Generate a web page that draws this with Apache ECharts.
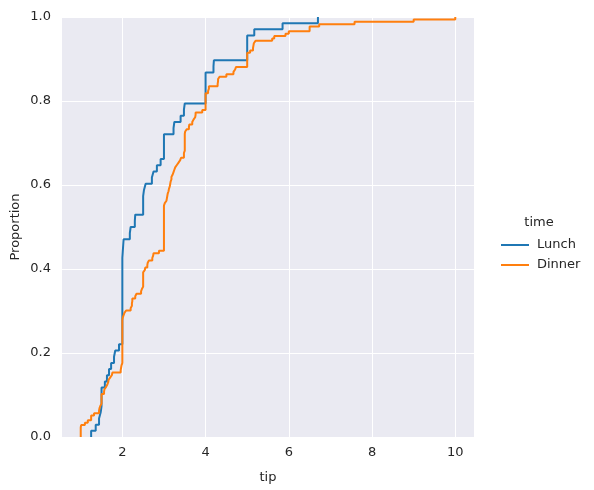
<!DOCTYPE html>
<html>
<head>
<meta charset="utf-8">
<script src="https://cdn.jsdelivr.net/npm/echarts@6/dist/echarts.min.js"></script>
<style>html,body{margin:0;padding:0;background:#fff}#c{width:594px;height:490px}</style>
</head>
<body>
<div id="c"></div>
<script>
// tip values by meal time (tips dataset)
const lunchTips = [4.00,3.00,2.71,3.00,3.40,1.83,5.00,2.03,5.17,2.00,4.00,5.85,3.00,
  1.50,1.80,2.92,2.31,1.68,2.50,2.00,2.52,4.20,1.48,2.00,2.00,2.18,1.50,2.83,1.50,2.00,3.25,1.25,2.00,2.00,2.00,2.75,3.50,6.70,5.00,5.00,2.30,1.50,1.36,1.63,1.73,2.00,
  4.19,2.56,2.02,4.00,1.44,2.00,5.00,2.00,2.00,4.00,2.01,2.00,2.50,4.00,3.23,
  2.20,3.48,1.92,3.00,1.58,2.50,2.00];
const dinnerTips = [1.01,1.66,3.50,3.31,3.61,4.71,2.00,3.12,1.96,3.23,1.71,5.00,1.57,3.00,3.02,3.92,1.67,3.71,3.50,
  3.35,4.08,2.75,2.23,7.58,3.18,2.34,2.00,2.00,4.30,3.00,1.45,2.50,3.00,2.45,3.27,3.60,2.00,3.07,2.31,5.00,2.24,
  2.54,3.06,1.32,5.60,3.00,5.00,6.00,2.05,3.00,2.50,2.60,5.20,1.56,4.34,3.51,
  3.00,1.50,1.76,6.73,3.21,2.00,1.98,3.76,2.64,3.15,2.47,1.00,2.01,2.09,1.97,3.00,3.14,5.00,2.20,1.25,3.08,
  3.00,3.50,1.00,4.30,3.25,4.73,4.00,1.50,3.00,1.50,2.50,3.00,2.50,3.48,4.08,1.64,4.06,4.29,3.76,4.00,3.00,1.00,4.00,2.55,4.00,3.50,5.07,
  2.50,2.00,2.74,2.00,2.00,5.14,5.00,3.75,2.61,2.00,3.50,2.50,2.00,2.00,3.00,3.48,2.24,4.50,1.61,2.00,10.00,3.16,5.15,3.18,4.00,3.11,2.00,2.00,4.00,3.55,3.68,5.65,3.50,6.50,3.00,5.00,3.50,2.00,3.50,4.00,1.50,
  3.41,3.00,2.03,2.23,2.00,5.16,9.00,2.50,6.50,1.10,3.00,1.50,1.44,3.09,
  3.00,2.72,2.88,2.00,3.00,3.39,1.47,3.00,1.25,1.00,1.17,4.67,5.92,2.00,2.00,1.75,3.00];
const seriesNames = ['Lunch','Dinner'];

function ecdf(vals){
  const s = vals.slice().sort((a,b)=>a-b);
  const n = s.length;
  const pts = [[s[0],0]];
  s.forEach((v,i)=>pts.push([v,(i+1)/n]));
  return pts;
}

const txt = '#262626';
const font = 'DejaVu Sans';
const fs = 13;
const chart = echarts.init(document.getElementById('c'), null, {renderer:'canvas'});
chart.setOption({
  animation:false,
  backgroundColor:'#ffffff',
  textStyle:{fontFamily:font},
  grid:{left:62, top:17, width:412, height:420, show:true, backgroundColor:'#EAEAF2', borderWidth:0, containLabel:false, outerBoundsMode:'none'},
  xAxis:{type:'value', min:0.55, max:10.45, splitNumber:5,
    name:'tip', nameLocation:'middle', nameGap:34, nameMoveOverlap:false,
    nameTextStyle:{color:txt, fontSize:fs, fontFamily:font},
    axisLine:{show:false}, axisTick:{show:false},
    axisLabel:{color:txt, fontSize:fs, fontFamily:font, margin:9, showMinLabel:false, showMaxLabel:false},
    splitLine:{show:true, showMinLine:false, showMaxLine:false, lineStyle:{color:'#ffffff', width:1}}},
  yAxis:{type:'value', min:0, max:1, interval:0.2,
    name:'Proportion', nameLocation:'middle', nameGap:40, nameMoveOverlap:false,
    nameTextStyle:{color:txt, fontSize:fs, fontFamily:font},
    axisLine:{show:false}, axisTick:{show:false},
    axisLabel:{color:txt, fontSize:fs, fontFamily:font, margin:11, formatter:v=>v.toFixed(1)},
    splitLine:{show:true, lineStyle:{color:'#ffffff', width:1}}},
  legend:{orient:'vertical', left:496, top:233, itemWidth:28, itemHeight:2, icon:'rect', itemGap:6,
    textStyle:{color:txt, fontSize:fs, fontFamily:font, lineHeight:14, padding:[0,0,0,3]},
    data:seriesNames},
  graphic:[{type:'text', x:539, y:223, style:{text:'time', fill:txt, font:fs+'px "DejaVu Sans"', textAlign:'center', textVerticalAlign:'middle'}}],
  series:[
    {name:seriesNames[0], type:'line', step:'end', showSymbol:false, symbol:'none', data:ecdf(lunchTips), lineStyle:{color:'#1f77b4', width:2}, itemStyle:{color:'#1f77b4'}},
    {name:seriesNames[1], type:'line', step:'end', showSymbol:false, symbol:'none', data:ecdf(dinnerTips), lineStyle:{color:'#ff7f0e', width:2}, itemStyle:{color:'#ff7f0e'}}
  ]
});
</script>
</body>
</html>
